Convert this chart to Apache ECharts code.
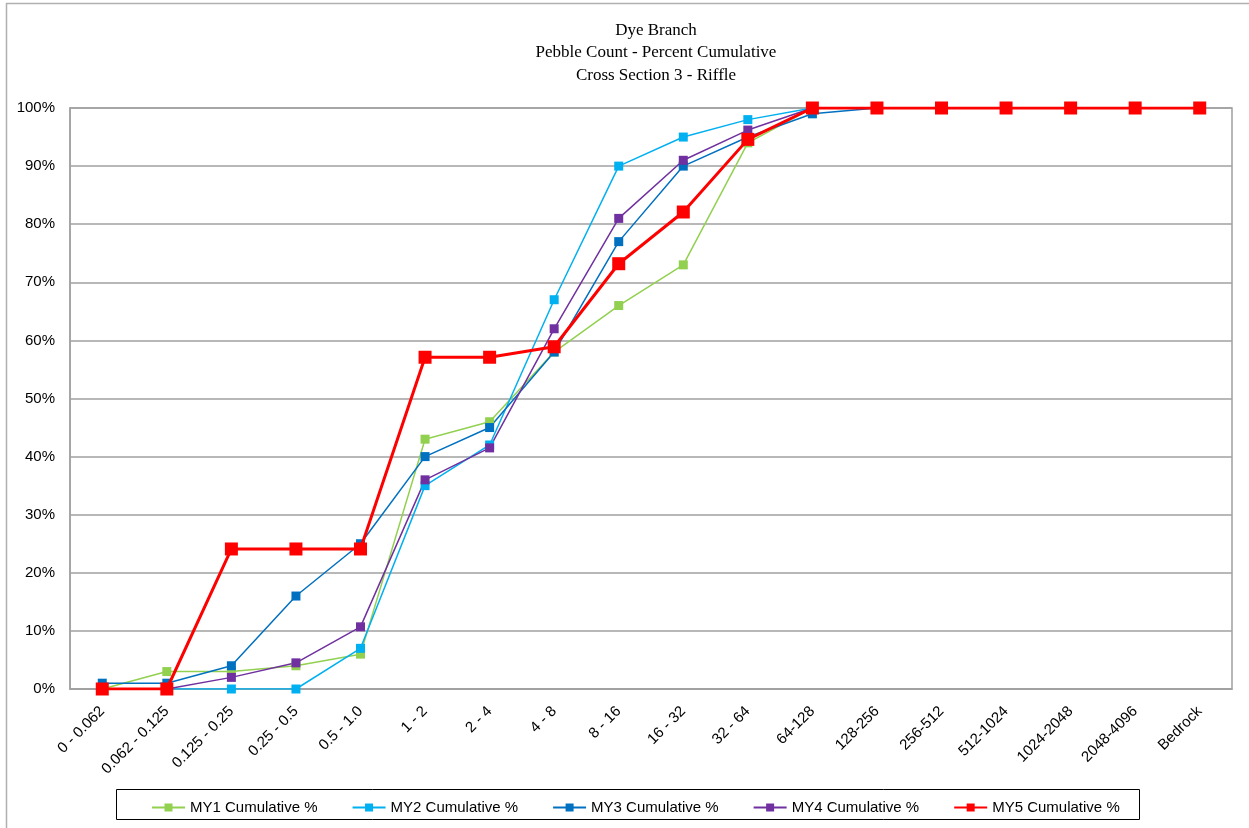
<!DOCTYPE html>
<html>
<head>
<meta charset="utf-8">
<script src="https://cdn.jsdelivr.net/npm/echarts@6/dist/echarts.min.js"></script>
<style>
  html, body { margin: 0; padding: 0; background: #fff; }
  #chart { width: 1249px; height: 828px; }
</style>
</head>
<body>
<div id="chart"></div>
<script>
const sizeClasses = ['0 - 0.062', '0.062 - 0.125', '0.125 - 0.25', '0.25 - 0.5', '0.5 - 1.0',
  '1 - 2', '2 - 4', '4 - 8', '8 - 16', '16 - 32', '32 - 64', '64-128', '128-256',
  '256-512', '512-1024', '1024-2048', '2048-4096', 'Bedrock'];

const my1 = [0, 3, 3, 4, 6, 43, 46, 58, 66, 73, 94, 100, 100, 100, 100, 100, 100, 100];
const my2 = [0, 0, 0, 0, 7, 35, 42, 67, 90, 95, 98, 100, 100, 100, 100, 100, 100, 100];
const my3 = [1, 1, 4, 16, 25, 40, 45, 58, 77, 90, 95, 99, 100, 100, 100, 100, 100, 100];
const my4 = [0, 0, 2, 4.5, 10.7, 36, 41.5, 62, 81, 91, 96.2, 100, 100, 100, 100, 100, 100, 100];
const my5 = [0, 0, 24.1, 24.1, 24.1, 57.1, 57.1, 58.9, 73.2, 82.1, 94.6, 100, 100, 100, 100, 100, 100, 100];

const seriesNames = ['MY1 Cumulative %', 'MY2 Cumulative %', 'MY3 Cumulative %', 'MY4 Cumulative %', 'MY5 Cumulative %'];
const seriesColors = ['#92D050', '#00B0F0', '#0070C0', '#7030A0', '#FF0000'];

const labelFont = 'Liberation Sans, Arial, sans-serif';

function makeSeries(name, data, color, big) {
  return {
    name,
    type: 'line',
    data,
    symbol: 'rect',
    symbolSize: big ? 13 : 9,
    showAllSymbol: true,
    z: big ? 5 : 2,
    itemStyle: { color },
    lineStyle: { color, width: big ? 3 : 1.5 },
    emphasis: { disabled: true },
    animation: false
  };
}

const chart = echarts.init(document.getElementById('chart'));
chart.setOption({
  backgroundColor: '#fff',
  animation: false,
  title: {
    text: 'Dye Branch\nPebble Count - Percent Cumulative\nCross Section 3 - Riffle',
    left: 651,
    textAlign: 'center',
    top: 14,
    textStyle: {
      fontFamily: 'Liberation Serif, Times New Roman, serif',
      fontSize: 17,
      fontWeight: 'normal',
      color: '#000',
      lineHeight: 22.5
    }
  },
  graphic: [
    {
      type: 'rect',
      shape: { x: 6.5, y: 3.5, width: 1260, height: 840 },
      style: { fill: 'none', stroke: '#B0B0B0', lineWidth: 1.5 },
      silent: true
    },
    {
      type: 'rect',
      shape: { x: 116.5, y: 789.5, width: 1023, height: 30 },
      style: { fill: '#fff', stroke: '#000', lineWidth: 1 },
      silent: true,
      z: 0
    }
  ],
  legend: {
    data: seriesNames,
    left: 146,
    top: 795,
    itemWidth: 33,
    itemHeight: 10,
    itemGap: 34,
    textStyle: { fontFamily: labelFont, fontSize: 15, color: '#000' },
    z: 10
  },
  grid: {
    left: 70,
    right: 17,
    top: 108,
    bottom: 139,
    show: true,
    borderColor: '#A0A0A0',
    borderWidth: 1.5,
    containLabel: false
  },
  xAxis: {
    type: 'category',
    data: sizeClasses,
    boundaryGap: true,
    axisLine: { lineStyle: { color: '#A0A0A0', width: 1.5 } },
    axisTick: { show: false },
    axisLabel: {
      rotate: 45,
      interval: 0,
      margin: 20,
      fontFamily: labelFont,
      fontSize: 15,
      color: '#000'
    }
  },
  yAxis: {
    type: 'value',
    min: 0,
    max: 100,
    interval: 10,
    axisLine: { show: true, lineStyle: { color: '#A0A0A0', width: 1.5 } },
    axisTick: { show: false },
    splitLine: { lineStyle: { color: '#A0A0A0', width: 1.5 } },
    axisLabel: {
      formatter: '{value}%',
      margin: 15,
      fontFamily: labelFont,
      fontSize: 15,
      color: '#000'
    }
  },
  series: [
    makeSeries(seriesNames[0], my1, seriesColors[0], false),
    makeSeries(seriesNames[1], my2, seriesColors[1], false),
    makeSeries(seriesNames[2], my3, seriesColors[2], false),
    makeSeries(seriesNames[3], my4, seriesColors[3], false),
    makeSeries(seriesNames[4], my5, seriesColors[4], true)
  ]
});
</script>
</body>
</html>
